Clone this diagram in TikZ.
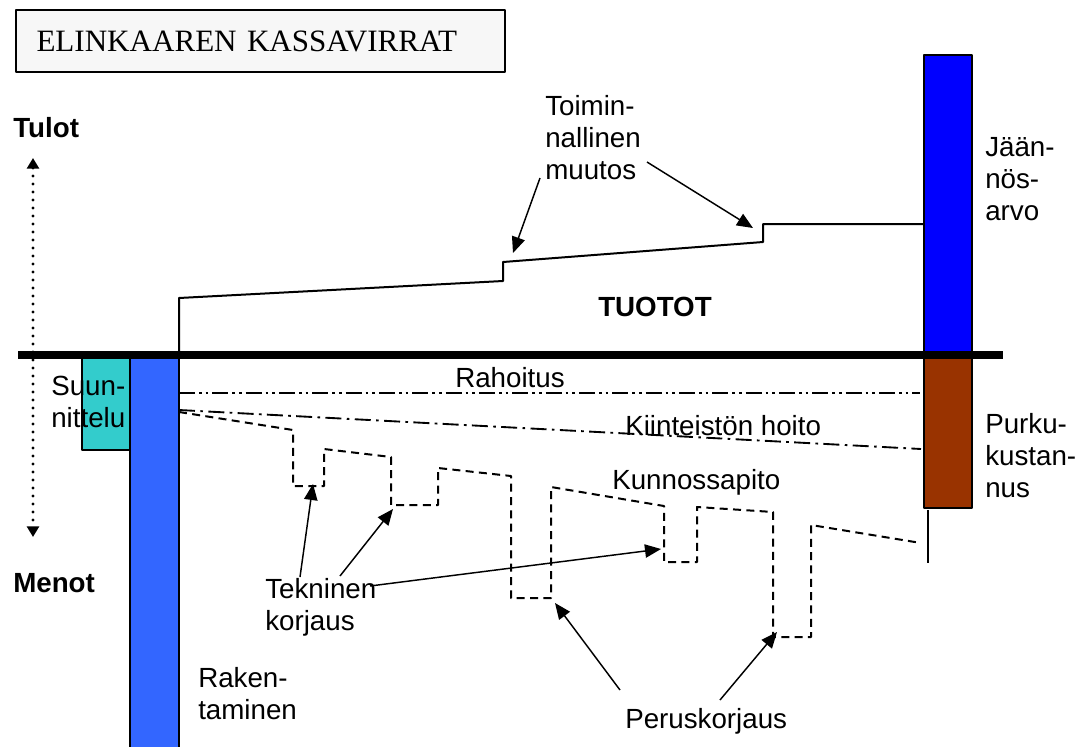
\documentclass[tikz,border=0pt]{standalone}
\usepackage{fontspec}
\setmainfont{Liberation Serif}
\setsansfont{Liberation Sans}
\usetikzlibrary{arrows.meta}
\definecolor{suunc}{HTML}{33CCCC}
\definecolor{rakc}{HTML}{3366FF}
\definecolor{jaac}{HTML}{0000FF}
\definecolor{purc}{HTML}{993300}
\definecolor{titc}{HTML}{F7F7F7}
\begin{document}
\begin{tikzpicture}[x=0.75pt,y=-0.75pt,>={Triangle[length=12pt,width=10pt]},
	font=\sffamily\fontsize{20.8}{24}\selectfont, line join=round,
	lbl/.style={inner sep=0pt,align=left},
	palkki/.style={draw=black,line width=0.9pt},
	nuoli/.style={->,line width=1.1pt}]
	\def\ay{355} \def\xa{179} \def\xb{924} \def\xc{972} % akseli ja palkit
	\useasboundingbox (0,0) rectangle (1083,747);
	\node[draw,line width=1pt,fill=titc,minimum width=366.75pt,minimum height=46.5pt,
		text width=336pt,inner xsep=15pt,align=left,font=\rmfamily\fontsize{23.3}{27}\selectfont]
		(otsikko) at (260.5,41) {ELINKAAREN KASSAVIRRAT};
	% tulot / menot
	\node[lbl,anchor=base west,font=\sffamily\bfseries\fontsize{20.8}{24}\selectfont] (tulot) at (13,137) {Tulot};
	\node[lbl,anchor=base west,font=\sffamily\bfseries\fontsize{20.8}{24}\selectfont] (menot) at (13,592) {Menot};
	\coordinate (ylos) at (33,158); \coordinate (alas) at (33,537);
	\draw[{Triangle[length=8pt,width=9pt]}-{Triangle[length=8pt,width=9pt]},line width=2.4pt,
		line cap=round,dash pattern=on 0pt off 6pt] (ylos) -- (alas);
	% palkit
	\draw[palkki,fill=suunc] (82,\ay) rectangle (130,450);
	\draw[palkki,fill=rakc] (130,\ay) rectangle (\xa,752);
	\draw[palkki,fill=jaac] (\xb,55) rectangle (\xc,\ay);
	\draw[palkki,fill=purc] (\xb,\ay) rectangle (\xc,508);
	\draw[line width=1.1pt] (928,510) -- (928,563);
	% tuotot
	\draw[line width=1.5pt] (\xa,\ay) -- (\xa,298) -- (503,281) -- (503,262) -- (763,242)
		-- (763,224) -- (\xb,224);
	\node[font=\sffamily\bfseries\fontsize{20.8}{24}\selectfont] (tuotot) at (655,307) {TUOTOT};
	% menot
	\draw[line width=2pt,dash pattern=on 12pt off 3pt on 2pt off 3pt on 2pt off 3pt] (\xa,393) -- (920,393);
	\draw[line width=1.4pt,dash pattern=on 12pt off 4pt on 2pt off 4pt] (\xa,410) -- (921,449);
	\draw[line width=1.5pt,dash pattern=on 6pt off 4pt] (\xa,412) -- (293,430) -- (293,486) -- (324,486)
		-- (324,449) -- (391,457) -- (391,505) -- (438,505) -- (438,468) -- (511,476) -- (511,598)
		-- (551,598) -- (551,487) -- (664,506) -- (664,562) -- (697,562) -- (697,507) -- (773,512)
		-- (773,637) -- (811,637) -- (811,525) -- (921,543);
	\draw[line width=6pt] (18,\ay) -- (1003,\ay);
	% tekstit
	\node[lbl,anchor=north west] (suun) at (51,376) {Suun-\\nittelu};
	\node[lbl,anchor=north west] (rak) at (198,667) {Raken-\\taminen};
	\node[lbl,anchor=north west] (toim) at (545,95) {Toimin-\\nallinen\\muutos};
	\node[lbl,anchor=north west] (jaan) at (985,137) {Jään-\\nös-\\arvo};
	\node[lbl,anchor=north west] (purku) at (985,413) {Purku-\\kustan-\\nus};
	\node[lbl,anchor=base west] (rah) at (455,387) {Rahoitus};
	\node[lbl,anchor=base west] (kiin) at (625,435) {Kiinteistön hoito};
	\node[lbl,anchor=base west] (kunn) at (612,489) {Kunnossapito};
	\node[lbl,anchor=north west] (tekn) at (265,578) {Tekninen\\korjaus};
	\node[lbl,anchor=base west] (peru) at (625,728) {Peruskorjaus};
	% nuolet
	\coordinate (tm1) at (513,253); \coordinate (tm2) at (753,228);
	\coordinate (tk1) at (313,484); \coordinate (tk2) at (393,509); \coordinate (tk3) at (661,549);
	\coordinate (pk1) at (555,603); \coordinate (pk2) at (777,632);
	\draw[nuoli] ([shift={(-5,83)}]toim.north west) -- (tm1);
	\draw[nuoli] ([shift={(102,67)}]toim.north west) -- (tm2);
	\draw[nuoli] ([shift={(35,-1)}]tekn.north west) -- (tk1);
	\draw[nuoli] ([shift={(75,-2)}]tekn.north west) -- (tk2);
	\draw[nuoli] ([shift={(105,8)}]tekn.north west) -- (tk3);
	\draw[nuoli] ([shift={(-5,-38)}]peru.base west) -- (pk1);
	\draw[nuoli] ([shift={(95,-28)}]peru.base west) -- (pk2);
\end{tikzpicture}
\end{document}
